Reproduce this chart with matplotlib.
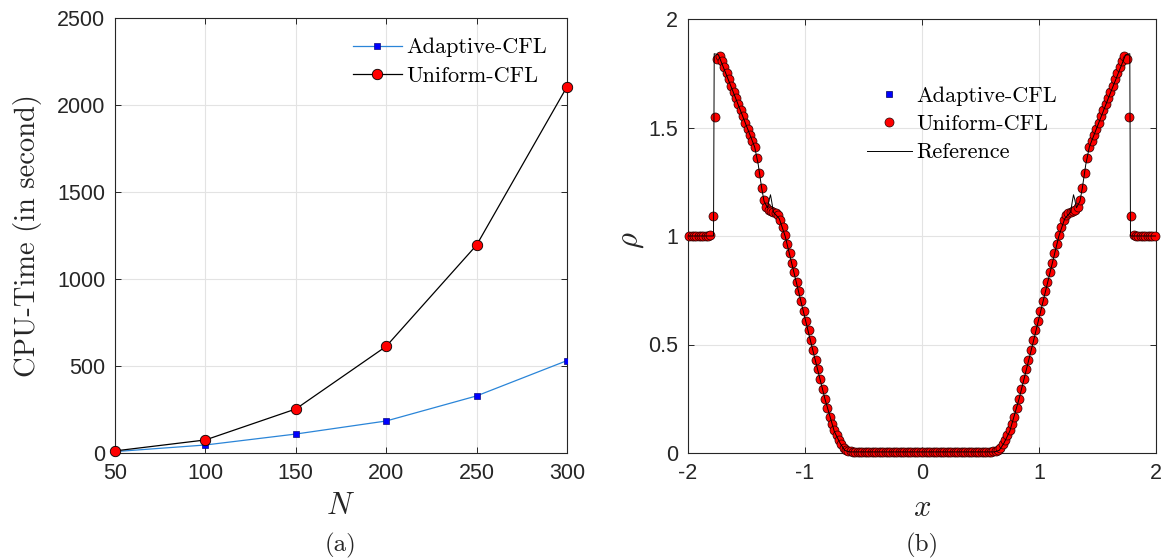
import matplotlib
matplotlib.use("Agg")
import matplotlib.pyplot as plt
import numpy as np

# ---------------- data: panel (a) ----------------
N_vals = [50, 100, 150, 200, 250, 300]
cpu_adaptive = [8, 46, 109, 184, 328, 531]
cpu_uniform = [12, 75, 253, 613, 1195, 2105]

# ---------------- data: panel (b) ----------------
x_cells = [-1.99, -1.97, -1.95, -1.93, -1.91, -1.89, -1.87, -1.85, -1.83, -1.81,
           -1.79, -1.77, -1.75, -1.73, -1.71, -1.69, -1.67, -1.65, -1.63, -1.61,
           -1.59, -1.57, -1.55, -1.53, -1.51, -1.49, -1.47, -1.45, -1.43, -1.41,
           -1.39, -1.37, -1.35, -1.33, -1.31, -1.29, -1.27, -1.25, -1.23, -1.21,
           -1.19, -1.17, -1.15, -1.13, -1.11, -1.09, -1.07, -1.05, -1.03, -1.01,
           -0.99, -0.97, -0.95, -0.93, -0.91, -0.89, -0.87, -0.85, -0.83, -0.81,
           -0.79, -0.77, -0.75, -0.73, -0.71, -0.69, -0.67, -0.65, -0.63, -0.61,
           -0.59, -0.57, -0.55, -0.53, -0.51, -0.49, -0.47, -0.45, -0.43, -0.41,
           -0.39, -0.37, -0.35, -0.33, -0.31, -0.29, -0.27, -0.25, -0.23, -0.21,
           -0.19, -0.17, -0.15, -0.13, -0.11, -0.09, -0.07, -0.05, -0.03, -0.01,
           0.01, 0.03, 0.05, 0.07, 0.09, 0.11, 0.13, 0.15, 0.17, 0.19,
           0.21, 0.23, 0.25, 0.27, 0.29, 0.31, 0.33, 0.35, 0.37, 0.39,
           0.41, 0.43, 0.45, 0.47, 0.49, 0.51, 0.53, 0.55, 0.57, 0.59,
           0.61, 0.63, 0.65, 0.67, 0.69, 0.71, 0.73, 0.75, 0.77, 0.79,
           0.81, 0.83, 0.85, 0.87, 0.89, 0.91, 0.93, 0.95, 0.97, 0.99,
           1.01, 1.03, 1.05, 1.07, 1.09, 1.11, 1.13, 1.15, 1.17, 1.19,
           1.21, 1.23, 1.25, 1.27, 1.29, 1.31, 1.33, 1.35, 1.37, 1.39,
           1.41, 1.43, 1.45, 1.47, 1.49, 1.51, 1.53, 1.55, 1.57, 1.59,
           1.61, 1.63, 1.65, 1.67, 1.69, 1.71, 1.73, 1.75, 1.77, 1.79,
           1.81, 1.83, 1.85, 1.87, 1.89, 1.91, 1.93, 1.95, 1.97, 1.99]

rho_uniform = [1.0, 1.0, 1.0, 1.0, 1.0, 1.0, 1.0, 1.0, 1.0, 1.005,
               1.09, 1.55, 1.815, 1.83, 1.805, 1.778, 1.75, 1.722, 1.693, 1.665,
               1.637, 1.608, 1.58, 1.552, 1.523, 1.495, 1.467, 1.438, 1.41, 1.36,
               1.29, 1.22, 1.165, 1.135, 1.12, 1.115, 1.11, 1.105, 1.095, 1.075,
               1.04, 1.003, 0.962, 0.92, 0.877, 0.833, 0.79, 0.745, 0.70, 0.655,
               0.61, 0.565, 0.52, 0.475, 0.43, 0.385, 0.34, 0.295, 0.25, 0.207,
               0.168, 0.132, 0.105, 0.082, 0.06, 0.04, 0.025, 0.014, 0.009, 0.007,
               0.006, 0.005, 0.005, 0.005, 0.005, 0.005, 0.005, 0.005, 0.005, 0.005,
               0.005, 0.005, 0.005, 0.005, 0.005, 0.005, 0.005, 0.005, 0.005, 0.005,
               0.005, 0.005, 0.005, 0.005, 0.005, 0.005, 0.005, 0.005, 0.005, 0.005,
               0.005, 0.005, 0.005, 0.005, 0.005, 0.005, 0.005, 0.005, 0.005, 0.005,
               0.005, 0.005, 0.005, 0.005, 0.005, 0.005, 0.005, 0.005, 0.005, 0.005,
               0.005, 0.005, 0.005, 0.005, 0.005, 0.005, 0.005, 0.005, 0.005, 0.005,
               0.007, 0.009, 0.014, 0.025, 0.04, 0.06, 0.082, 0.105, 0.132, 0.168,
               0.207, 0.25, 0.295, 0.34, 0.385, 0.43, 0.475, 0.52, 0.565, 0.61,
               0.655, 0.70, 0.745, 0.79, 0.833, 0.877, 0.92, 0.962, 1.003, 1.04,
               1.075, 1.095, 1.105, 1.11, 1.115, 1.12, 1.135, 1.165, 1.22, 1.29,
               1.36, 1.41, 1.438, 1.467, 1.495, 1.523, 1.552, 1.58, 1.608, 1.637,
               1.665, 1.693, 1.722, 1.75, 1.778, 1.805, 1.83, 1.815, 1.55, 1.09,
               1.005, 1.0, 1.0, 1.0, 1.0, 1.0, 1.0, 1.0, 1.0, 1.0]

rho_adaptive = list(rho_uniform)

x_ref = [-2.0, -1.782, -1.776, -1.74, -1.60, -1.43, -1.40, -1.37, -1.35, -1.32,
         -1.305, -1.295, -1.285, -1.27, -1.22, -1.17, -0.95, -0.83, -0.75, -0.70,
         -0.66, -0.62, 0.62, 0.66, 0.70, 0.75, 0.83, 0.95, 1.17, 1.22,
         1.27, 1.285, 1.295, 1.305, 1.32, 1.35, 1.37, 1.40, 1.43, 1.60,
         1.74, 1.776, 1.782, 2.0]
rho_ref = [1.0, 1.0, 1.84, 1.835, 1.645, 1.41, 1.33, 1.22, 1.16, 1.13,
           1.17, 1.19, 1.16, 1.11, 1.08, 1.0, 0.51, 0.25, 0.10, 0.045,
           0.012, 0.005, 0.005, 0.012, 0.045, 0.10, 0.25, 0.51, 1.0, 1.08,
           1.11, 1.16, 1.19, 1.17, 1.13, 1.16, 1.22, 1.33, 1.41, 1.645,
           1.835, 1.84, 1.0, 1.0]

# ---------------- styling ----------------
AX_COLOR = "#262626"
GRID_COLOR = "#e3e3e3"
TICK_FONT = ["Liberation Sans", "DejaVu Sans"]
SERIF = ["cmr10", "DejaVu Serif"]
plt.rcParams["mathtext.fontset"] = "cm"
plt.rcParams["axes.unicode_minus"] = False

W, H = 1168, 559
fig = plt.figure(figsize=(W / 100, H / 100), dpi=100)


def px_axes(l, t, r, b):
    return fig.add_axes([l / W, 1 - b / H, (r - l) / W, (b - t) / H])


def style(ax):
    for s in ax.spines.values():
        s.set_color(AX_COLOR)
        s.set_linewidth(0.8)
    ax.tick_params(direction="in", length=4, width=0.7, color=AX_COLOR,
                   top=True, right=True, labelsize=15.5, labelcolor=AX_COLOR, pad=7)
    for lab in ax.get_xticklabels() + ax.get_yticklabels():
        lab.set_family(TICK_FONT)
    ax.grid(True, color=GRID_COLOR, linewidth=0.8)
    ax.set_axisbelow(True)


# ---- panel (a) ----
L1, T1, R1, B1 = 115, 18, 567, 453
ax1 = px_axes(L1, T1, R1, B1)
ax1.plot(N_vals, cpu_adaptive, color="#2a85d8", lw=0.9, marker="s", ms=5,
         mfc="#0000ff", mec="#0a0a80", mew=0.5, label="Adaptive-CFL", zorder=3)
ax1.plot(N_vals, cpu_uniform, color="black", lw=0.9, marker="o", ms=7.5,
         mfc="#ff0000", mec="black", mew=0.6, label="Uniform-CFL", zorder=3,
         clip_on=False)
ax1.set_xlim(50, 300)
ax1.set_ylim(0, 2500)
ax1.set_xticks([50, 100, 150, 200, 250, 300])
ax1.set_yticks([0, 500, 1000, 1500, 2000, 2500])
style(ax1)
ax1.set_ylabel("CPU-Time (in second)", family=SERIF, fontsize=20.5,
               color=AX_COLOR)
ax1.yaxis.set_label_coords((28 - L1) / (R1 - L1), 0.5)
ax1.set_xlabel(r"$N$", fontsize=22, color=AX_COLOR)
ax1.xaxis.set_label_coords(0.5, (B1 - 506) / (B1 - T1))
ax1.xaxis.label.set_va("center")
ax1.yaxis.label.set_va("center")
leg1 = ax1.legend(loc="upper right", bbox_to_anchor=(0.985, 0.985), frameon=False,
                  prop={"family": SERIF, "size": 16}, handlelength=2.2,
                  handletextpad=0.2, labelspacing=0.4, borderaxespad=0.2)
fig.text((L1 + R1) / 2 / W, 1 - 545 / H, "(a)", family=SERIF, fontsize=18,
         ha="center", va="center", color=AX_COLOR)

# ---- panel (b) ----
L2, T2, R2, B2 = 688, 19, 1156, 453
ax2 = px_axes(L2, T2, R2, B2)
ax2.plot(x_cells, rho_adaptive, ls="none", marker="s", ms=5, mfc="#0000ff",
         mec="#00005a", mew=0.5, label="Adaptive-CFL", zorder=3, clip_on=False)
ax2.plot(x_cells, rho_uniform, ls="none", marker="o", ms=6.5, mfc="#ff0000",
         mec="#200000", mew=0.5, label="Uniform-CFL", zorder=4, clip_on=False)
ax2.plot(x_ref, rho_ref, color="black", lw=0.7, label="Reference", zorder=5)
ax2.set_xlim(-2, 2)
ax2.set_ylim(0, 2)
ax2.set_xticks([-2, -1, 0, 1, 2])
ax2.set_xticklabels(["-2", "-1", "0", "1", "2"])
ax2.set_yticks([0, 0.5, 1, 1.5, 2])
ax2.set_yticklabels(["0", "0.5", "1", "1.5", "2"])
style(ax2)
ax2.set_ylabel(r"$\rho$", fontsize=22, color=AX_COLOR)
ax2.yaxis.set_label_coords((632 - L2) / (R2 - L2), (B2 - 240) / (B2 - T2))
ax2.yaxis.label.set_va("center")
ax2.set_xlabel(r"$x$", fontsize=22, color=AX_COLOR)
ax2.xaxis.set_label_coords(0.5, (B2 - 508) / (B2 - T2))
ax2.xaxis.label.set_va("center")
leg2 = ax2.legend(loc="upper left", bbox_to_anchor=(0.364, 0.866), frameon=False,
                  prop={"family": SERIF, "size": 16}, handlelength=2.0,
                  handletextpad=0.2, labelspacing=0.4, borderaxespad=0.0)
fig.text((L2 + R2) / 2 / W, 1 - 545 / H, "(b)", family=SERIF, fontsize=18,
         ha="center", va="center", color=AX_COLOR)

fig.savefig("out.png", dpi=100)
